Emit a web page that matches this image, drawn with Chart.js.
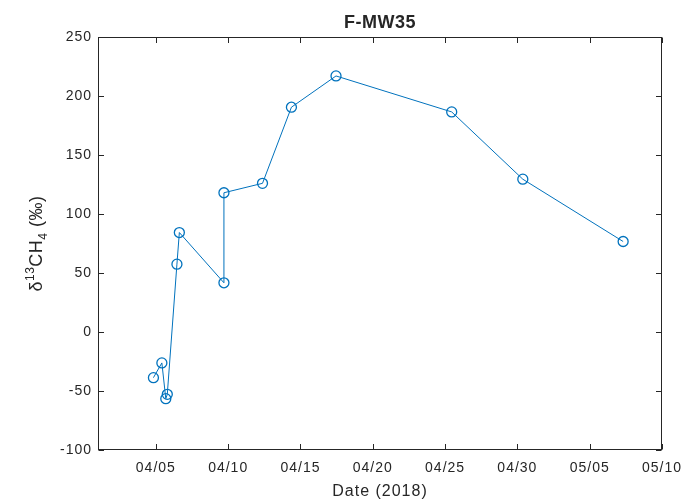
<!DOCTYPE html>
<html>
<head>
<meta charset="utf-8">
<script src="https://cdn.jsdelivr.net/npm/chart.js@4.4.1/dist/chart.umd.min.js"></script>
<style>
  html, body { margin: 0; padding: 0; background: #fff; }
  #wrap { width: 683px; height: 503px; }
</style>
</head>
<body>
<div id="wrap"><canvas id="chart"></canvas></div>
<script>
// --- DATA ---
const sampleTimes = [
  "2018-04-04T20:00", "2018-04-05T10:00", "2018-04-05T16:30", "2018-04-05T19:00",
  "2018-04-06T11:00", "2018-04-06T15:00", "2018-04-09T17:00", "2018-04-09T17:00",
  "2018-04-12T09:00", "2018-04-14T09:00", "2018-04-17T11:00", "2018-04-25T11:00",
  "2018-04-30T09:00", "2018-05-07T07:30"
];
const d13CH4 = [-38.7, -26.2, -56.5, -52.8, 57.5, 84.3, 41.7, 118, 126, 190.5, 217, 186.5, 129.5, 76.7];

const axisStart = "2018-04-01";
const axisEnd = "2018-05-10";
const tickDates = ["2018-04-05", "2018-04-10", "2018-04-15", "2018-04-20", "2018-04-25", "2018-04-30", "2018-05-05", "2018-05-10"];
const tickLabels = ["04/05", "04/10", "04/15", "04/20", "04/25", "04/30", "05/05", "05/10"];

const chartTitle = "F-MW35";
const xTitle = "Date (2018)";

// days since the start of the axis
const dayOf = (s) => (Date.parse(s.length > 10 ? s + ":00Z" : s + "T00:00:00Z") - Date.parse(axisStart + "T00:00:00Z")) / 86400000;

const points = sampleTimes.map((t, i) => ({ x: dayOf(t), y: d13CH4[i] }));
const tickDays = tickDates.map(dayOf);

const FONT = "'Liberation Sans', Arial, sans-serif";
const INK = "#262626";

// box around the axes, inward ticks on all four sides, title and y label
const matlabAxes = {
  id: "matlabAxes",
  beforeDraw(chart) {
    // MATLAB text is spaced a little wider than plain Arial
    chart.ctx.letterSpacing = "1px";
  },
  afterDraw(chart) {
    const { ctx, chartArea: a, scales } = chart;
    const L = Math.round(a.left) + 0.5, R = Math.round(a.right) - 0.5;
    const T = Math.round(a.top) + 0.5, B = Math.round(a.bottom) - 0.5;
    const len = 5.5;
    ctx.save();
    ctx.strokeStyle = INK;
    ctx.lineWidth = 1;
    ctx.strokeRect(L, T, R - L, B - T);
    ctx.beginPath();
    scales.x.ticks.forEach((t) => {
      const px = Math.round(scales.x.getPixelForValue(t.value)) + 0.5;
      ctx.moveTo(px, B); ctx.lineTo(px, B - len);
      ctx.moveTo(px, T); ctx.lineTo(px, T + len);
    });
    scales.y.ticks.forEach((t) => {
      const py = Math.round(scales.y.getPixelForValue(t.value)) + 0.5;
      ctx.moveTo(L, py); ctx.lineTo(L + len, py);
      ctx.moveTo(R, py); ctx.lineTo(R - len, py);
    });
    ctx.stroke();

    // title
    ctx.fillStyle = INK;
    ctx.textAlign = "center";
    ctx.textBaseline = "middle";
    ctx.letterSpacing = "0.5px";
    ctx.font = "bold 18px " + FONT;
    ctx.fillText(chartTitle, (a.left + a.right) / 2, 23);

    // y label: δ13CH4 (‰) with super/subscript
    ctx.letterSpacing = "0.5px";
    const parts = [
      { s: "\u03B4", size: 18, dy: 0 },
      { s: "13", size: 12, dy: -8 },
      { s: "CH", size: 18, dy: 0 },
      { s: "4", size: 12, dy: 5 },
      { s: " (\u2030)", size: 18, dy: 0 }
    ];
    let total = 0;
    parts.forEach((p) => { ctx.font = p.size + "px " + FONT; p.w = ctx.measureText(p.s).width; total += p.w; });
    ctx.translate(42, (a.top + a.bottom) / 2);
    ctx.rotate(-Math.PI / 2);
    ctx.textAlign = "left";
    ctx.textBaseline = "alphabetic";
    let cx = -total / 2;
    parts.forEach((p) => {
      ctx.font = p.size + "px " + FONT;
      ctx.fillText(p.s, cx, p.dy);
      cx += p.w;
    });
    ctx.restore();
    ctx.letterSpacing = "0px";
  }
};

new Chart(document.getElementById("chart"), {
  type: "line",
  data: {
    datasets: [{
      data: points,
      borderColor: "#0072BD",
      borderWidth: 1,
      pointStyle: "circle",
      pointRadius: 5,
      pointBorderWidth: 1.3,
      pointBorderColor: "#0072BD",
      pointBackgroundColor: "rgba(0,0,0,0)",
      tension: 0,
      fill: false
    }]
  },
  options: {
    responsive: true,
    maintainAspectRatio: false,
    animation: false,
    events: [],
    layout: { padding: { top: 37, right: 21, left: 0, bottom: 0 } },
    plugins: { legend: { display: false }, tooltip: { enabled: false } },
    scales: {
      x: {
        type: "linear",
        min: dayOf(axisStart),
        max: dayOf(axisEnd),
        afterBuildTicks: (scale) => { scale.ticks = tickDays.map((v) => ({ value: v })); },
        afterFit: (scale) => {
          scale.height = 53;
          scale.paddingLeft = 0;
          scale.paddingRight = 0;
        },
        grid: { display: false, drawTicks: false },
        border: { display: false },
        ticks: {
          autoSkip: false,
          maxRotation: 0,
          padding: 10,
          color: INK,
          font: { family: FONT, size: 14 },
          callback: (v) => tickLabels[tickDays.indexOf(v)]
        },
        title: {
          display: true,
          text: xTitle,
          color: INK,
          font: { family: FONT, size: 16 },
          padding: { top: 0, bottom: 2 }
        }
      },
      y: {
        min: -100,
        max: 250,
        afterFit: (scale) => {
          scale.width = 98;
          scale.paddingTop = 0;
          scale.paddingBottom = 0;
        },
        grid: { display: false, drawTicks: false },
        border: { display: false },
        ticks: {
          stepSize: 50,
          padding: 6,
          color: INK,
          font: { family: FONT, size: 14 }
        }
      }
    }
  },
  plugins: [matlabAxes]
});
</script>
</body>
</html>
